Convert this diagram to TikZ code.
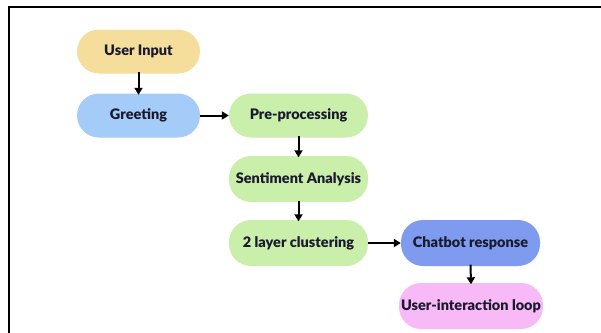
\documentclass[tikz,border=0pt]{standalone}
\usepackage{fontspec}
\setmainfont{Lato}[BoldFont=Lato Black]
\usetikzlibrary{arrows.meta}
\definecolor{cyellow}{HTML}{F5DE9C}
\definecolor{cblue}{HTML}{A5CBF8}
\definecolor{cgreen}{HTML}{C9EFAA}
\definecolor{cviolet}{HTML}{7F9BF0}
\definecolor{cpink}{HTML}{F8BAF6}
\definecolor{ctext}{HTML}{1A1A2E}
\tikzset{
  pill/.style={rounded corners=22pt, minimum height=44pt, inner sep=0pt, text=ctext, font=\fontsize{14.5}{17}\selectfont\bfseries},
  arr/.style={-{Triangle[length=7pt,width=8pt]}, line width=2pt, black},
}
\begin{document}
\begin{tikzpicture}[x=1pt,y=-1pt]
\useasboundingbox (0,0) rectangle (601,332);
\fill[white] (0,0) rectangle (601,332);
\begin{scope}
\clip (0,0) rectangle (601,332);
\draw[line width=2.5pt, black] (9,7) rectangle (640,360);
\end{scope}
\node[pill, fill=cyellow, minimum width=123pt] (ui) at (138.5,51.5) {User Input};
\node[pill, fill=cblue, minimum width=123pt] (gr) at (138.5,115.5) {Greeting};
\node[pill, fill=cgreen, minimum width=139pt] (pp) at (298.5,115.5) {Pre-processing};
\node[pill, fill=cgreen, minimum width=139pt, minimum height=46pt] (sa) at (298.5,179) {Sentiment Analysis};
\node[pill, fill=cgreen, minimum width=139pt, minimum height=46pt] (lc) at (298.5,243) {2 layer clustering};
\node[pill, fill=cviolet, minimum width=139pt, minimum height=46pt] (cr) at (470.5,243) {Chatbot response};
\node[pill, fill=cpink, minimum width=144pt, minimum height=46pt] (ul) at (471,306) {User-interaction loop};
\draw[arr] ([yshift=1.5pt]ui.south) -- ([yshift=-1.5pt]gr.north);
\draw[arr] (gr.east) -- (pp.west);
\draw[arr] ([yshift=1.5pt]pp.south) -- ([yshift=-1.5pt]sa.north);
\draw[arr] ([yshift=1.5pt]sa.south) -- ([yshift=-1.5pt]lc.north);
\draw[arr] (lc.east) -- (cr.west);
\draw[arr] ([yshift=1.5pt]cr.south) -- ([yshift=-1.5pt]ul.north);
\end{tikzpicture}
\end{document}
